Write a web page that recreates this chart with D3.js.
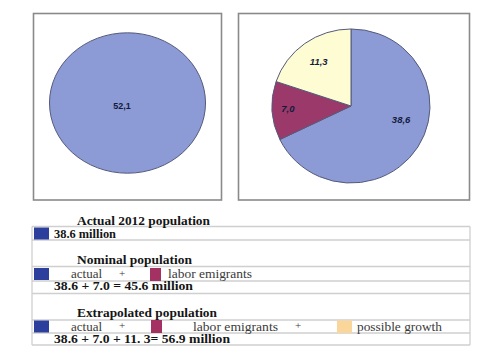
<!DOCTYPE html>
<html><head><meta charset="utf-8">
<script src="https://cdn.jsdelivr.net/npm/d3@7/dist/d3.min.js"></script>
<style>html,body{margin:0;padding:0;background:#fff;}svg{display:block;}</style>
</head><body>
<svg id="c" width="500" height="357"></svg>
<script>
// ---- data ----
const leftValues = [52.1];
const leftLabels = ["52,1"];
const categories = ["actual", "labor emigrants", "possible growth"];
const values = [38.6, 7.0, 11.3];
const valueLabels = ["38,6", "7,0", "11,3"];
const sectionTitles = ["Actual 2012 population", "Nominal population", "Extrapolated population"];
const totals = ["38.6 million", "38.6 + 7.0 = 45.6 million", "38.6 + 7.0 + 11. 3= 56.9 million"];

const pieColors = ["#8c9bd5", "#9b3a6a", "#fefcd2"];
const keyColors = ["#2c3f9c", "#a33262", "#fbd69a"];

const svg = d3.select("#c");

// ---- pie panels ----
function panel(x, y, w, h) {
  svg.append("rect").attr("x", x).attr("y", y).attr("width", w).attr("height", h)
    .attr("fill", "#fff").attr("stroke", "#8a8a8a").attr("stroke-width", 1.6);
}
panel(33.5, 13.5, 188, 186.5);
panel(238.5, 13.5, 231, 186.5);

const pie = d3.pie().sort(null).value(d => d);

// left full ellipse
const rL = 78;
const gL = svg.append("g").attr("transform", "translate(127.5,103) scale(1,0.9)");
const arcL = d3.arc().innerRadius(0).outerRadius(rL);
gL.selectAll("path").data(pie(leftValues)).join("path")
  .attr("d", arcL).attr("fill", pieColors[0])
  .attr("stroke", "#555a7a").attr("stroke-width", 1).attr("vector-effect", "non-scaling-stroke");
svg.append("text").attr("x", 122).attr("y", 107).attr("text-anchor", "middle")
  .attr("dominant-baseline", "middle")
  .attr("font-family", "Liberation Sans, Arial, sans-serif").attr("font-size", 9)
  .attr("font-weight", "bold").attr("fill", "#141a3c").text(leftLabels[0]);

// right pie
const rR = 79;
const gR = svg.append("g").attr("transform", "translate(351,106) scale(1,0.975)");
const arcR = d3.arc().innerRadius(0).outerRadius(rR);
const arcsR = pie(values);
gR.selectAll("path").data(arcsR).join("path")
  .attr("d", arcR).attr("fill", (d, i) => pieColors[i])
  .attr("stroke", "#555a7a").attr("stroke-width", 1).attr("vector-effect", "non-scaling-stroke");
const labelRadius = [0.66, 0.8, 0.7];
gR.selectAll("text").data(arcsR).join("text")
  .attr("transform", (d, i) => {
    let a = (d.startAngle + d.endAngle) / 2;
    if (i === 0) a = a - 0.28;
    const r = rR * labelRadius[i];
    return `translate(${Math.sin(a) * r},${-Math.cos(a) * r})`;
  })
  .attr("text-anchor", "middle").attr("dominant-baseline", "middle")
  .attr("font-family", "Liberation Sans, Arial, sans-serif").attr("font-size", 9.5)
  .attr("font-weight", "bold").attr("font-style", "italic").attr("fill", "#141a3c")
  .text((d, i) => valueLabels[i]);

// ---- key table ----
const tLeft = 32, tRight = 470;
const lineYs = [226.5, 240, 266.5, 281, 293.5, 320, 333, 345];
const lineCol = "#cfcfcf";
lineYs.forEach(y => {
  svg.append("line").attr("x1", tLeft).attr("x2", tRight).attr("y1", y).attr("y2", y)
    .attr("stroke", lineCol).attr("stroke-width", 1.3);
});
svg.append("line").attr("x1", tLeft).attr("x2", tLeft).attr("y1", 226.5).attr("y2", 345)
  .attr("stroke", lineCol).attr("stroke-width", 1.3);
svg.append("line").attr("x1", tRight).attr("x2", tRight).attr("y1", 226.5).attr("y2", 345)
  .attr("stroke", lineCol).attr("stroke-width", 1.3);

const serif = "Liberation Serif, Times New Roman, serif";
function txt(x, y, s, size, bold, len) {
  const t = svg.append("text").attr("x", x).attr("y", y).attr("font-family", serif)
    .attr("font-size", size).attr("font-weight", bold ? "bold" : "normal")
    .attr("fill", bold ? "#151515" : "#3a3a3a").text(s);
  if (len) t.attr("textLength", len).attr("lengthAdjust", "spacingAndGlyphs");
  return t;
}
function key(x, y, w, h, c) {
  svg.append("rect").attr("x", x).attr("y", y).attr("width", w).attr("height", h).attr("fill", c);
}

// section titles
const titleYs = [224.5, 264, 317];
const titleLens = [133, 115, 140];
sectionTitles.forEach((s, i) => txt(77, titleYs[i], s, 12, true, titleLens[i]));

// row 1
key(34, 227.5, 15, 12, keyColors[0]);
txt(54, 237.5, totals[0], 12, true, 62);

// row 2
key(34, 268, 15, 12, keyColors[0]);
txt(71, 278, categories[0], 11.5, false, 31);
txt(119, 276.5, "+", 11, false);
key(150, 268, 11, 13, keyColors[1]);
txt(168, 278, categories[1], 11.5, false, 84);
txt(54, 290, totals[1], 12, true, 139);

// row 3
key(34, 320.5, 15, 12, keyColors[0]);
txt(71, 330.5, categories[0], 11.5, false, 31);
txt(119, 329, "+", 11, false);
key(151, 320, 11, 13, keyColors[1]);
txt(193, 330.5, categories[1], 11.5, false, 85);
txt(295, 329, "+", 11, false);
key(337, 320.5, 15, 12.5, keyColors[2]);
txt(357, 330.5, categories[2], 11.5, false, 85);
txt(54, 342.5, totals[2], 12, true, 176);
</script>
</body></html>
